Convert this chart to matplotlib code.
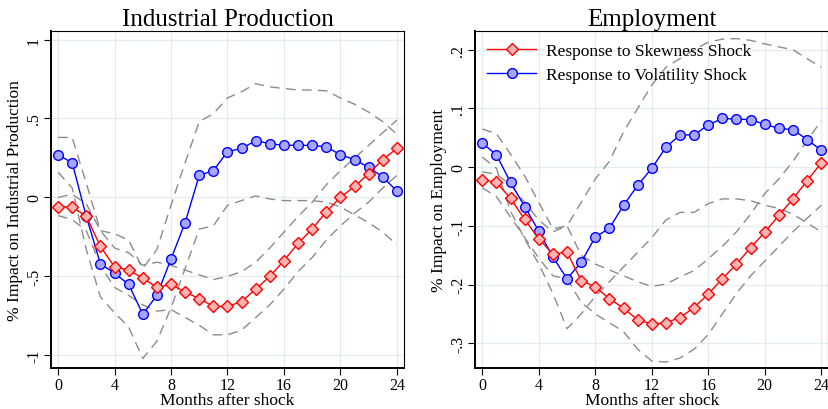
import numpy as np
import matplotlib
matplotlib.use('Agg')
import matplotlib.pyplot as plt

plt.rcParams['font.family'] = ['Liberation Serif', 'DejaVu Serif']

months = list(range(25))

# Industrial production
ip_skew = [-0.06, -0.06, -0.12, -0.31, -0.44, -0.46, -0.51, -0.57, -0.55, -0.60, -0.64, -0.69, -0.69,
           -0.66, -0.58, -0.50, -0.40, -0.29, -0.20, -0.09, 0.00, 0.07, 0.15, 0.24, 0.31]
ip_skew_hi = [0.00, 0.02, -0.04, -0.21, -0.32, -0.35, -0.43, -0.41, -0.43, -0.46, -0.49, -0.52, -0.50,
              -0.47, -0.41, -0.32, -0.22, -0.12, -0.03, 0.08, 0.17, 0.25, 0.33, 0.41, 0.49]
ip_skew_lo = [-0.115, -0.14, -0.21, -0.43, -0.57, -0.62, -0.68, -0.72, -0.71, -0.76, -0.81, -0.87, -0.87,
              -0.84, -0.76, -0.68, -0.58, -0.47, -0.38, -0.27, -0.18, -0.10, -0.03, 0.06, 0.14]
ip_vol = [0.27, 0.22, -0.12, -0.42, -0.48, -0.55, -0.74, -0.62, -0.39, -0.16, 0.14, 0.17, 0.29,
          0.31, 0.36, 0.34, 0.33, 0.33, 0.33, 0.32, 0.27, 0.24, 0.19, 0.13, 0.04]
ip_vol_hi = [0.38, 0.38, 0.09, -0.21, -0.23, -0.27, -0.45, -0.33, -0.05, 0.22, 0.48, 0.53, 0.63,
             0.67, 0.72, 0.70, 0.69, 0.68, 0.68, 0.675, 0.63, 0.59, 0.54, 0.48, 0.40]
ip_vol_lo = [0.16, 0.06, -0.33, -0.63, -0.73, -0.82, -1.02, -0.91, -0.70, -0.45, -0.20, -0.18, -0.05,
             -0.02, 0.01, -0.01, -0.02, -0.02, -0.02, -0.03, -0.06, -0.11, -0.16, -0.22, -0.30]

# Employment
em_skew = [-0.021, -0.026, -0.053, -0.089, -0.122, -0.148, -0.145, -0.193, -0.204, -0.224, -0.240, -0.260, -0.267,
           -0.265, -0.256, -0.239, -0.216, -0.190, -0.165, -0.137, -0.111, -0.082, -0.054, -0.023, 0.007]
em_skew_hi = [-0.008, -0.012, -0.03, -0.06, -0.09, -0.11, -0.10, -0.15, -0.165, -0.175, -0.185, -0.195, -0.203,
              -0.199, -0.187, -0.176, -0.156, -0.135, -0.11, -0.08, -0.045, -0.02, 0.01, 0.045, 0.079]
em_skew_lo = [-0.035, -0.05, -0.085, -0.12, -0.155, -0.185, -0.19, -0.23, -0.25, -0.265, -0.28, -0.31, -0.33,
              -0.332, -0.325, -0.31, -0.285, -0.25, -0.215, -0.185, -0.16, -0.135, -0.11, -0.087, -0.065]
em_vol = [0.041, 0.021, -0.026, -0.067, -0.109, -0.153, -0.190, -0.162, -0.119, -0.104, -0.065, -0.031, -0.002,
          0.034, 0.055, 0.055, 0.072, 0.083, 0.082, 0.081, 0.073, 0.066, 0.064, 0.047, 0.029]
em_vol_hi = [0.065, 0.057, 0.022, -0.015, -0.06, -0.105, -0.10, -0.06, -0.02, 0.01, 0.06, 0.10, 0.14,
             0.17, 0.185, 0.20, 0.213, 0.218, 0.219, 0.216, 0.21, 0.205, 0.20, 0.185, 0.17]
em_vol_lo = [0.017, -0.002, -0.075, -0.122, -0.165, -0.215, -0.275, -0.25, -0.22, -0.195, -0.17, -0.145, -0.12,
             -0.09, -0.077, -0.077, -0.062, -0.054, -0.054, -0.057, -0.065, -0.07, -0.08, -0.095, -0.11]

panels = [
    ('Industrial Production', '% Impact on Industrial Production',
     ip_skew, ip_skew_hi, ip_skew_lo, ip_vol, ip_vol_hi, ip_vol_lo,
     [-1, -0.5, 0, 0.5, 1], ['-1', '-.5', '0', '.5', '1'], (-1.08, 1.054)),
    ('Employment', '% Impact on Employment',
     em_skew, em_skew_hi, em_skew_lo, em_vol, em_vol_hi, em_vol_lo,
     [-0.3, -0.2, -0.1, 0, 0.1, 0.2], ['-.3', '-.2', '-.1', '0', '.1', '.2'], (-0.342, 0.232)),
]

fig = plt.figure(figsize=(8.29, 4.10), dpi=100)
positions = [[0.0615, 0.1, 0.4258, 0.822], [0.5733, 0.1, 0.4258, 0.822]]
grid_c = '#e4eef0'
dash = (0, (7, 4.5))

for i, (title, ylab, sk, skh, skl, vo, voh, vol, yt, ytl, ylim) in enumerate(panels):
    ax = fig.add_axes(positions[i])
    for band in (skh, skl, voh, vol):
        ax.plot(months, band, color='#8c8c8c', lw=1.0, linestyle=dash, zorder=2)
    ax.plot(months, sk, color='red', lw=1.0, marker='D', markersize=6.5,
            markerfacecolor='#ffb4b4', markeredgecolor='red', markeredgewidth=1.0,
            label='Response to Skewness Shock', zorder=4)
    ax.plot(months, vo, color='blue', lw=1.0, marker='o', markersize=7,
            markerfacecolor='#a6a6ff', markeredgecolor='blue', markeredgewidth=1.0,
            label='Response to Volatility Shock', zorder=3)

    ax.set_xlim(-0.5, 24.5)
    ax.set_ylim(*ylim)
    ax.set_xticks(range(0, 25, 4))
    ax.set_yticks(yt)
    ax.set_yticklabels(ytl, rotation=90, va='center')
    ax.tick_params(labelsize=11.5, length=5, width=0.8, direction='out', pad=1.5)
    ax.grid(True, color=grid_c, lw=1.0, zorder=0)
    ax.set_axisbelow(True)
    for side in ('left', 'bottom'):
        ax.spines[side].set_linewidth(1.4)
    for side in ('top', 'right'):
        ax.spines[side].set_linewidth(0.8)
    ax.set_title(title, fontsize=18, pad=4)
    ax.set_xlabel('Months after shock', fontsize=12.5, labelpad=-1)
    ax.set_ylabel(ylab, fontsize=12.5, labelpad=2)

    if i == 1:
        ax.legend(loc='upper left', frameon=False, fontsize=12.5, handlelength=2.8,
                  handletextpad=0.6, labelspacing=0.45, borderaxespad=0.3,
                  bbox_to_anchor=(0.0, 1.0))

fig.savefig('out.png', dpi=100)
